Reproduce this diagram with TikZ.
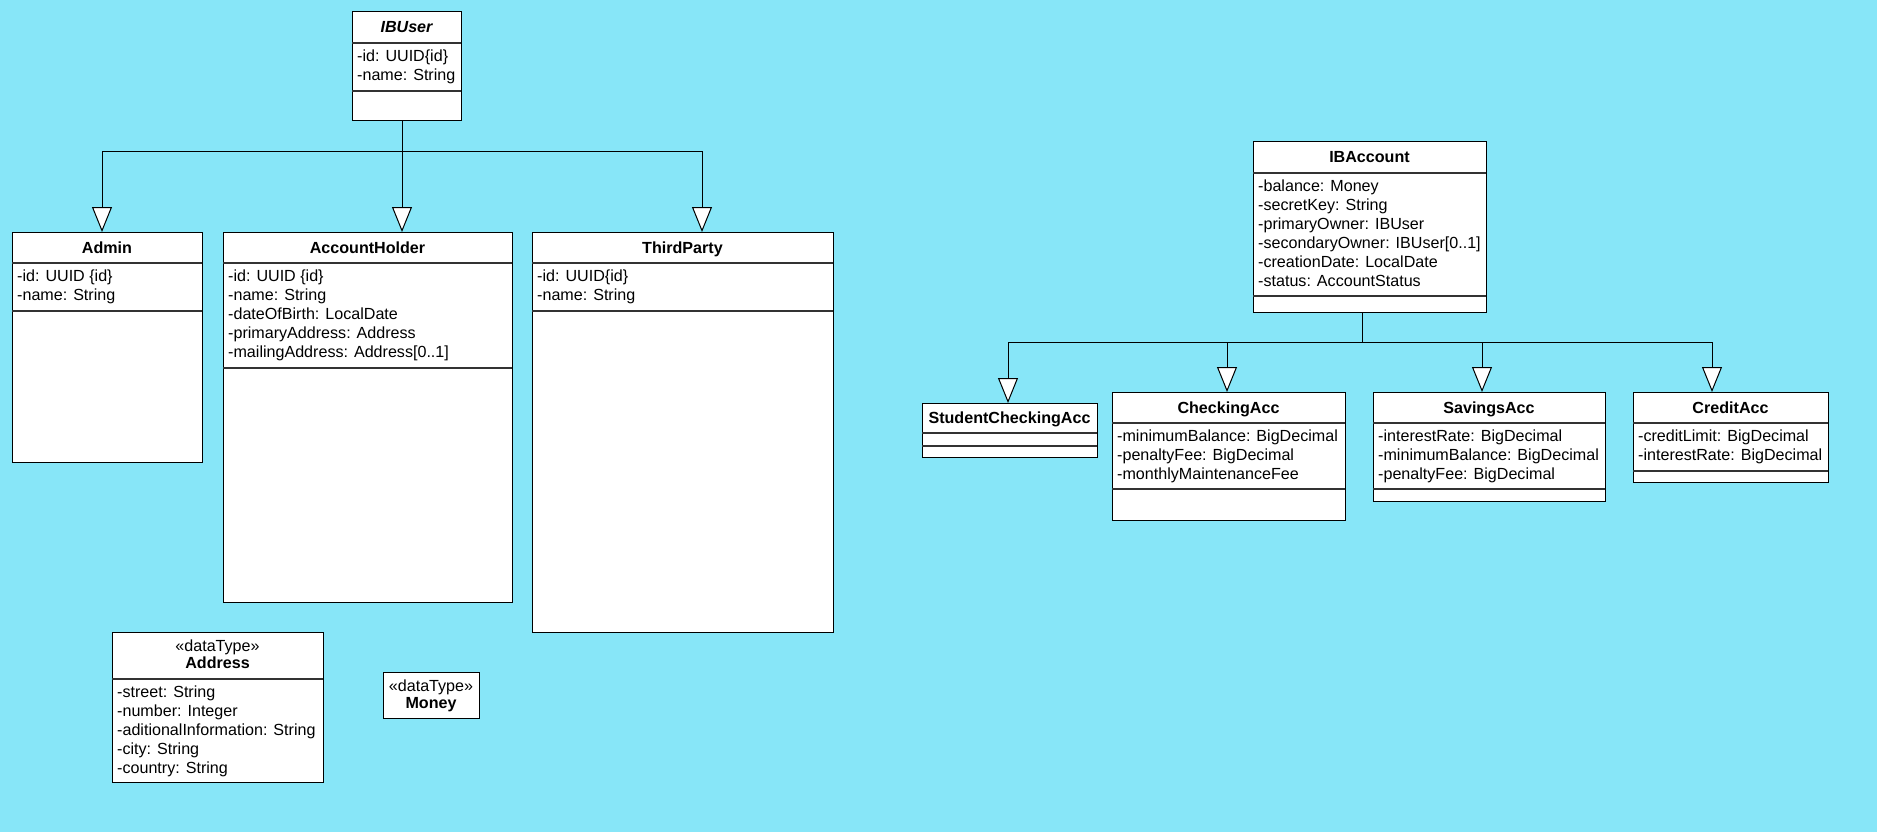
\documentclass[tikz,border=0pt]{standalone}
\usepackage{fontspec}
\setmainfont{Liberation Sans}
\usetikzlibrary{arrows.meta, positioning}
\definecolor{canvas}{RGB}{135, 230, 248}
\newcommand{\umlfont}{\fontsize{16.1}{19}\selectfont}

\begin{document}
\begin{tikzpicture}[x=1pt, y=-1pt,
  classbox/.style={draw, fill=white, line width=1pt, inner sep=0pt, outer sep=0pt, anchor=north west},
  title/.style={font=\umlfont\bfseries, anchor=base, align=center, inner sep=0pt},
  stereo/.style={font=\umlfont, anchor=north, align=center, inner sep=0pt},
  attr/.style={font=\umlfont, anchor=north west, align=left, inner sep=0pt},
  sep/.style={line width=1.3pt, black!80},
  gen/.style={line width=1pt, -{Triangle[length=25pt, width=20pt, fill=white]}}]
  \fill[canvas] (0, 0) rectangle (1877, 832);

  % users
  \node[classbox, minimum width=109pt, minimum height=109pt] (ibuser) at (352, 12) {};
  \node[title, font=\umlfont\bfseries\itshape] (ibuser-t) at (406.5, 33) {IBUser};
  \draw[sep] (ibuser.west |- 0,43) -- (ibuser.east |- 0,43);
  \node[attr] (ibuser-a) at (357, 50) {-id: UUID\{id\}\\-name: String};
  \draw[sep] (ibuser.west |- 0,91) -- (ibuser.east |- 0,91);

  \node[classbox, minimum width=190pt, minimum height=230pt] (admin) at (12, 232) {};
  \node[title] (admin-t) at (107, 253) {Admin};
  \draw[sep] (admin.west |- 0,263) -- (admin.east |- 0,263);
  \node[attr] (admin-a) at (17, 270) {-id: UUID \{id\}\\-name: String};
  \draw[sep] (admin.west |- 0,311) -- (admin.east |- 0,311);

  \node[classbox, minimum width=289pt, minimum height=370pt] (holder) at (223, 232) {};
  \node[title] (holder-t) at (367.5, 253) {AccountHolder};
  \draw[sep] (holder.west |- 0,263) -- (holder.east |- 0,263);
  \node[attr] (holder-a) at (228, 270) {-id: UUID \{id\}\\-name: String\\-dateOfBirth: LocalDate\\-primaryAddress: Address\\-mailingAddress: Address[0..1]};
  \draw[sep] (holder.west |- 0,368) -- (holder.east |- 0,368);

  \node[classbox, minimum width=301pt, minimum height=400pt] (third) at (532, 232) {};
  \node[title] (third-t) at (682.5, 253) {ThirdParty};
  \draw[sep] (third.west |- 0,263) -- (third.east |- 0,263);
  \node[attr] (third-a) at (537, 270) {-id: UUID\{id\}\\-name: String};
  \draw[sep] (third.west |- 0,311) -- (third.east |- 0,311);

  \coordinate (userbus) at (402, 152);
  \draw[gen] (ibuser.south -| userbus) -- (holder.north -| userbus);
  \draw[gen] (userbus) -| (admin.north -| 102,0);
  \draw[gen] (userbus) -| (third.north -| 702,0);

  % data types
  \node[classbox, minimum width=211pt, minimum height=150pt] (address) at (112, 632) {};
  \node[stereo] (address-t) at (217.5, 639.5) {«dataType»\\[-1.7pt]\textbf{Address}};
  \draw[sep] (address.west |- 0,679) -- (address.east |- 0,679);
  \node[attr] (address-a) at (117, 686) {-street: String\\-number: Integer\\-aditionalInformation: String\\-city: String\\-country: String};

  \node[classbox, minimum width=96pt, minimum height=46pt] (money) at (383, 672) {};
  \node[stereo] (money-t) at (431, 679.5) {«dataType»\\[-1.7pt]\textbf{Money}};

  % accounts
  \node[classbox, minimum width=233pt, minimum height=170pt] (account) at (1253, 142) {};
  \node[title] (account-t) at (1369.5, 163) {IBAccount};
  \draw[sep] (account.west |- 0,173) -- (account.east |- 0,173);
  \node[attr] (account-a) at (1258, 180) {-balance: Money\\-secretKey: String\\-primaryOwner: IBUser\\-secondaryOwner: IBUser[0..1]\\-creationDate: LocalDate\\-status: AccountStatus};
  \draw[sep] (account.west |- 0,296) -- (account.east |- 0,296);

  \node[classbox, minimum width=175pt, minimum height=54pt] (student) at (922, 403) {};
  \node[title] (student-t) at (1009.5, 423.5) {StudentCheckingAcc};
  \draw[sep] (student.west |- 0,433) -- (student.east |- 0,433);
  \draw[sep] (student.west |- 0,446) -- (student.east |- 0,446);

  \node[classbox, minimum width=233pt, minimum height=128pt] (checking) at (1112, 392) {};
  \node[title] (checking-t) at (1228.5, 413) {CheckingAcc};
  \draw[sep] (checking.west |- 0,423) -- (checking.east |- 0,423);
  \node[attr] (checking-a) at (1117, 430) {-minimumBalance: BigDecimal\\-penaltyFee: BigDecimal\\-monthlyMaintenanceFee};
  \draw[sep] (checking.west |- 0,489) -- (checking.east |- 0,489);

  \node[classbox, minimum width=232pt, minimum height=109pt] (savings) at (1373, 392) {};
  \node[title] (savings-t) at (1489, 413) {SavingsAcc};
  \draw[sep] (savings.west |- 0,423) -- (savings.east |- 0,423);
  \node[attr] (savings-a) at (1378, 430) {-interestRate: BigDecimal\\-minimumBalance: BigDecimal\\-penaltyFee: BigDecimal};
  \draw[sep] (savings.west |- 0,489) -- (savings.east |- 0,489);

  \node[classbox, minimum width=195pt, minimum height=90pt] (credit) at (1633, 392) {};
  \node[title] (credit-t) at (1730.5, 413) {CreditAcc};
  \draw[sep] (credit.west |- 0,423) -- (credit.east |- 0,423);
  \node[attr] (credit-a) at (1638, 430) {-creditLimit: BigDecimal\\-interestRate: BigDecimal};
  \draw[sep] (credit.west |- 0,471) -- (credit.east |- 0,471);

  \coordinate (accbus) at (1362, 342);
  \draw[line width=1pt] (account.south -| accbus) -- (accbus);
  \draw[gen] (accbus) -| (student.north -| 1008,0);
  \draw[gen] (accbus) -| (checking.north -| 1227,0);
  \draw[gen] (accbus) -| (savings.north -| 1482,0);
  \draw[gen] (accbus) -| (credit.north -| 1712,0);
\end{tikzpicture}
\end{document}
